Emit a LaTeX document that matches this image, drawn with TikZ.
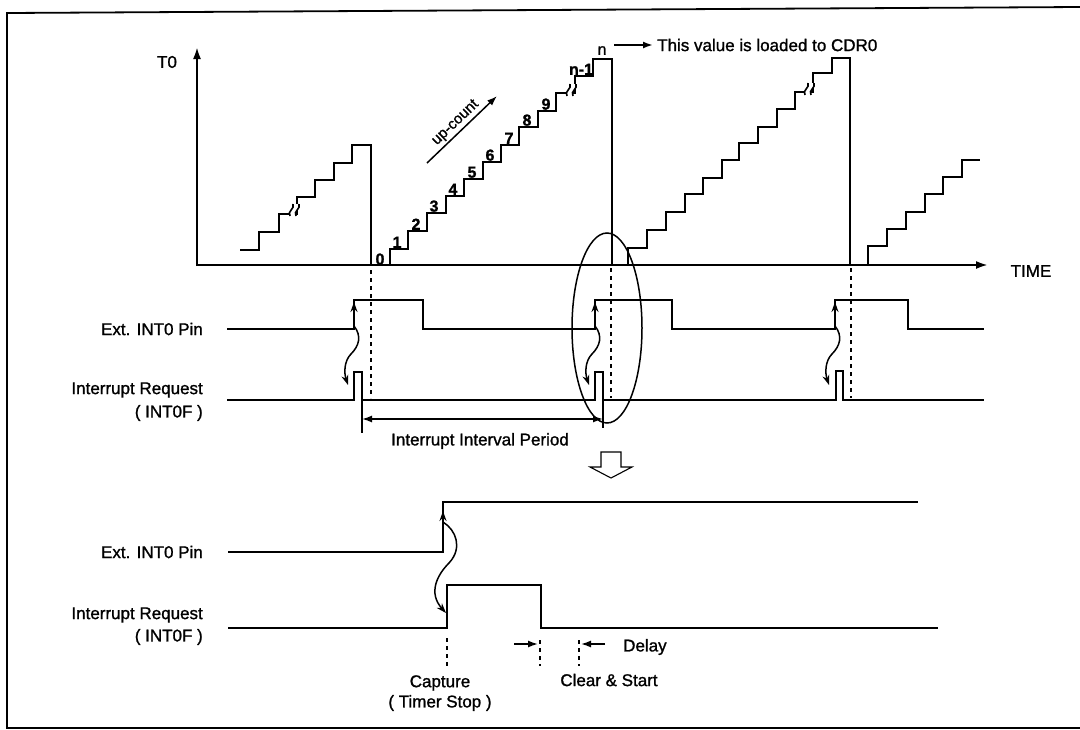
\documentclass[tikz,border=0pt]{standalone}
\usepackage{fontspec}
\setmainfont{Liberation Sans}[FakeBold=1.2]
\usetikzlibrary{arrows.meta}
\tikzset{
  sig/.style={line width=2.8, line join=miter},
  axisline/.style={line width=2.2, -{Latex[length=12,width=8]}},
  thinline/.style={line width=1.5},
  dotline/.style={line width=2.2, dash pattern=on 4 off 4},
  lbl/.style={font=\fontsize{17}{20}\selectfont, inner sep=0},
  num/.style={font=\fontsize{16}{18}\selectfont\bfseries, inner sep=0},
  tip/.style={-{Latex[length=10,width=7]}},
  dtip/.style={{Stealth[length=10,width=7]}-{Stealth[length=10,width=7]}},
  brk/.pic={
    \fill[white] (-5,6) .. controls (-8,1) and (0,-1) .. (-2,-6) -- (4,-6) .. controls (6,-1) and (-2,1) .. (1,6) -- cycle;
    \draw[line width=1.6] (-5,6) .. controls (-8,1) and (0,-1) .. (-2,-6);
    \draw[line width=1.6] (1,6) .. controls (-2,1) and (6,-1) .. (4,-6);
  }
}
\begin{document}
\begin{tikzpicture}[x=1pt,y=-1pt]
\useasboundingbox (0,0) rectangle (1080,729);
% frame
\draw[line width=1.8] (1080,7) -- (7,13) -- (7,728) -- (1080,728);

% axes
\draw[axisline] (197,266) -- (197,47);
\draw[axisline] (196,265) -- (988,265);
\node[lbl] (t0) at (167,62) {T0};
\node[lbl] (time) at (1031,271) {TIME};

% staircases
\draw[sig] (240,250) -| (259,232) -| (279,214) -| (297,197) -| (315,180) -| (334,163) -| (352,145) -| (371,265);
\draw[sig] (371,265) -| (390,249) -| (408,231) -| (427,213) -| (446,196) -| (464,179) -| (483,162) -| (501,145) -| (519,127) -| (538,111) -| (556,93) -| (575,76) -| (593,59) -| (612,265);
\draw[sig] (612,265) -| (628,248) -| (647,230) -| (666,212) -| (685,194) -| (703,178) -| (722,160) -| (739,143) -| (758,127) -| (777,109) -| (795,92) -| (813,73) -| (832,58) -| (850,265) -| (868,246) -| (887,229) -| (906,212) -| (925,194) -| (943,177) -| (962,160) -- (980,160);
\pic at (295,210) {brk};
\pic at (572,90) {brk};
\pic at (810,89) {brk};

% step labels
\node[num,anchor=south] (s0) at (380,265) {0};
\node[num,anchor=south] (s1) at (397,248) {1};
\node[num,anchor=south] (s2) at (416,230) {2};
\node[num,anchor=south] (s3) at (434,212) {3};
\node[num,anchor=south] (s4) at (453,195) {4};
\node[num,anchor=south] (s5) at (472,178) {5};
\node[num,anchor=south] (s6) at (490,161) {6};
\node[num,anchor=south] (s7) at (509,144) {7};
\node[num,anchor=south] (s8) at (527,126) {8};
\node[num,anchor=south] (s9) at (546,110) {9};
\node[num,anchor=south] (snm) at (581,75) {n-1};
\node[num,anchor=south,font=\fontsize{16}{18}\selectfont] (sn) at (602,55) {n};

% up-count
\coordinate (uc1) at (427,163);
\coordinate (uc2) at (497,96);
\draw[thinline,tip] (uc1) -- node[sloped,above=2pt,inner sep=0,font=\fontsize{15}{17}\selectfont] (upc) {up-count} (uc2);

% CDR0 note
\node[lbl,anchor=west] (cdr) at (657,45) {This value is loaded to CDR0};
\coordinate (na) at (614,45);
\draw[line width=1.8,tip] (na) -- ([xshift=-4pt]cdr.west);

% dotted lines top
\draw[dotline] (371,270) -- (371,398);
\draw[dotline] (611,268) -- (611,398);
\draw[dotline] (851,268) -- (851,398);

% top signals
\node[lbl,anchor=east] (ext1) at (203,329) {Ext. INT0 Pin};
\node[lbl,anchor=east] (ir1) at (203,390) {Interrupt Request};
\node[lbl,anchor=east] (irf1) at (203,413) {( INT0F )};
\draw[sig] (227,329) -- (354,329) -- (354,300) -- (423,300) -- (423,329) -- (595,329) -- (595,300) -- (672,300) -- (672,329) -- (835,329) -- (835,300) -- (908,300) -- (908,329) -- (984,329);
\draw[sig] (227,400) -- (354,400) -- (354,372) -- (362,372) -- (362,400) -- (595,400) -- (595,372) -- (603,372) -- (603,400) -- (836,400) -- (836,371) -- (843,371) -- (843,400) -- (984,400);
\foreach \x in {354,595,835}{
  \draw[thinline,dtip] (\x,302) -- (\x,326) .. controls (\x+8,336) and (\x+5,346) .. (\x-3,354) .. controls (\x-10,361) and (\x-10,373) .. (\x-6,385);
}

% interval
\draw[thinline] (362,400) -- (362,433);
\draw[thinline] (603,400) -- (603,428);
\coordinate (ia) at (362,419);
\coordinate (ib) at (603,419);
\draw[thinline,{Latex[length=10,width=7]}-{Latex[length=10,width=7]}] (ia) -- (ib);
\node[lbl] (iip) at (480,441) {Interrupt Interval Period};

% ellipse
\draw[thinline] (607,328) ellipse [x radius=35, y radius=95];

% hollow down arrow
\draw[line width=1.1] (601,452) -- (621,452) -- (621,467) -- (632,467) -- (611,478) -- (590,467) -- (601,467) -- cycle;

% bottom section
\node[lbl,anchor=east] (ext2) at (203,552) {Ext. INT0 Pin};
\node[lbl,anchor=east] (ir2) at (203,615) {Interrupt Request};
\node[lbl,anchor=east] (irf2) at (203,637) {( INT0F )};
\draw[sig] (228,552) -- (443,552) -- (443,502) -- (918,502);
\draw[sig] (228,628) -- (447,628) -- (447,585) -- (541,585) -- (541,628) -- (938,628);
\draw[thinline,dtip] (443,511) -- (443,522) .. controls (456,530) and (463,548) .. (449,563) .. controls (437,575) and (428,593) .. (446,613);

\draw[dotline] (447,638) -- (447,666);
\draw[dotline] (540,640) -- (540,666);
\draw[dotline] (579,640) -- (579,666);
\coordinate (d1) at (514,644);
\coordinate (d2) at (538,644);
\coordinate (d3) at (605,644);
\coordinate (d4) at (581,644);
\draw[thinline,tip] (d1) -- (d2);
\draw[thinline,tip] (d3) -- (d4);
\node[lbl,anchor=west] (delay) at (623,647) {Delay};
\node[lbl] (cs) at (609,680) {Clear \& Start};
\node[lbl] (cap) at (440,683) {Capture};
\node[lbl] (ts) at (440,703) {( Timer Stop )};
\end{tikzpicture}
\end{document}
